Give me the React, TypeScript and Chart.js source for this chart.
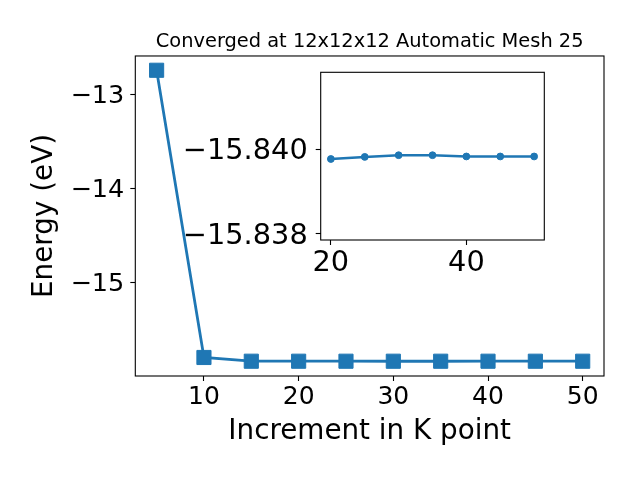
import { useEffect, useRef } from "react";
import { Chart, registerables } from "chart.js";

Chart.register(...registerables);

const kPoints = [5, 10, 15, 20, 25, 30, 35, 40, 45, 50];
const energies = [
  -12.745, -15.8, -15.8398, -15.83977, -15.83982, -15.83986, -15.83986, -15.83983, -15.83983, -15.83983,
];
const mainXTicks = [10, 20, 30, 40, 50];
const mainYTicks = [-13, -14, -15];
const insetStartK = 20;
const insetXTicks = [20, 40];
const insetYTicks = [-15.84, -15.838];
const titleText = "Converged at 12x12x12 Automatic Mesh 25";
const xLabel = "Increment in K point";
const yLabel = "Energy (eV)";

const BLUE = "#1f77b4";
const FONT = "'DejaVu Sans', sans-serif";
const minus = (s: string) => s.replace("-", "\u2212");

const boxPlugin = {
  id: "box",
  beforeDraw(chart: any, _args: any, opts: any) {
    if (opts && opts.fill) {
      const { left, top, right, bottom } = chart.chartArea;
      const ctx = chart.ctx;
      ctx.save();
      ctx.fillStyle = "#ffffff";
      ctx.fillRect(left, top, right - left, bottom - top);
      ctx.restore();
    }
  },
  afterDraw(chart: any) {
    const { left, top, right, bottom } = chart.chartArea;
    const ctx = chart.ctx;
    ctx.save();
    ctx.strokeStyle = "#000000";
    ctx.lineWidth = 1.1;
    ctx.strokeRect(left, top, right - left, bottom - top);
    ctx.restore();
  },
};

const tickGrid = {
  drawOnChartArea: false,
  drawTicks: true,
  tickLength: 5,
  tickColor: "#000",
  tickWidth: 1.1,
};

export default function App() {
  const mainRef = useRef<HTMLCanvasElement>(null);
  const insetRef = useRef<HTMLCanvasElement>(null);

  useEffect(() => {
    Chart.defaults.font.family = FONT;
    Chart.defaults.color = "#000";

    const mainData = kPoints.map((k, i) => ({ x: k, y: energies[i] }));
    const insetData = mainData.filter((p) => p.x >= insetStartK);

    const main = new Chart(mainRef.current!, {
      type: "line",
      data: {
        datasets: [
          {
            data: mainData,
            borderColor: BLUE,
            backgroundColor: BLUE,
            borderWidth: 2.8,
            pointStyle: "rect",
            pointRadius: 10,
            pointBorderWidth: 1,
            pointBackgroundColor: BLUE,
            pointBorderColor: BLUE,
            tension: 0,
          },
        ],
      },
      options: {
        responsive: false,
        animation: false,
        devicePixelRatio: 1,
        layout: { padding: { left: 0, right: 36, top: 0, bottom: 0 } },
        plugins: {
          legend: { display: false },
          tooltip: { enabled: false },
          title: {
            display: true,
            fullSize: false,
            text: titleText,
            color: "#000",
            font: { size: 19.4, weight: "normal", family: FONT, lineHeight: 1.2 },
            padding: { top: 30, bottom: 2.7 },
          },
          box: { fill: false },
        } as any,
        scales: {
          x: {
            type: "linear",
            position: "bottom",
            min: 2.75,
            max: 52.25,
            afterFit: (s: any) => {
              s.height = 104;
            },
            afterBuildTicks: (s: any) => {
              s.ticks = mainXTicks.map((v) => ({ value: v }));
            },
            ticks: {
              font: { size: 25, family: FONT, lineHeight: 1 },
              color: "#000",
              padding: 4,
              maxRotation: 0,
              autoSkip: false,
              callback: (v: any) => minus(String(v)),
            },
            grid: tickGrid,
            border: { display: false },
            title: {
              display: true,
              text: xLabel,
              color: "#000",
              font: { size: 27.8, family: FONT, lineHeight: 1.2 },
              padding: { top: 0, bottom: 31.6 },
            },
          },
          y: {
            type: "linear",
            position: "left",
            min: -15.997,
            max: -12.593,
            afterFit: (s: any) => {
              s.width = 135.3;
            },
            afterBuildTicks: (s: any) => {
              s.ticks = mainYTicks.map((v) => ({ value: v }));
            },
            ticks: {
              font: { size: 25.5, family: FONT, lineHeight: 1 },
              color: "#000",
              padding: 6,
              labelOffset: 2.5,
              autoSkip: false,
              callback: (v: any) => minus(String(v)),
            },
            grid: tickGrid,
            border: { display: false },
            title: {
              display: true,
              text: yLabel,
              color: "#000",
              font: { size: 27.8, family: FONT, lineHeight: 1.2 },
              padding: { top: 28.3, bottom: 0 },
            },
          },
        },
      } as any,
      plugins: [boxPlugin],
    });

    const inset = new Chart(insetRef.current!, {
      type: "line",
      data: {
        datasets: [
          {
            data: insetData,
            borderColor: BLUE,
            backgroundColor: BLUE,
            borderWidth: 2.5,
            pointStyle: "circle",
            pointRadius: 3.4,
            pointBorderWidth: 1,
            pointBackgroundColor: BLUE,
            pointBorderColor: BLUE,
            tension: 0,
          },
        ],
      },
      options: {
        responsive: false,
        animation: false,
        devicePixelRatio: 1,
        layout: { padding: { left: 160.7, right: 95.7, top: 72.3, bottom: 200 } },
        plugins: {
          legend: { display: false },
          tooltip: { enabled: false },
          title: { display: false },
          box: { fill: true },
        } as any,
        scales: {
          x: {
            type: "linear",
            position: "bottom",
            min: 18.5,
            max: 51.5,
            afterFit: (s: any) => {
              s.height = 40;
            },
            afterBuildTicks: (s: any) => {
              s.ticks = insetXTicks.map((v) => ({ value: v }));
            },
            ticks: {
              font: { size: 28.8, family: FONT, lineHeight: 1 },
              color: "#000",
              padding: 4,
              maxRotation: 0,
              autoSkip: false,
              callback: (v: any) => String(v),
            },
            grid: tickGrid,
            border: { display: false },
          },
          y: {
            type: "linear",
            position: "left",
            reverse: true,
            min: -15.841825,
            max: -15.83785,
            afterFit: (s: any) => {
              s.width = 160;
            },
            afterBuildTicks: (s: any) => {
              s.ticks = insetYTicks.map((v) => ({ value: v }));
            },
            ticks: {
              font: { size: 28.8, family: FONT, lineHeight: 1 },
              color: "#000",
              padding: 8,
              labelOffset: 2.5,
              autoSkip: false,
              callback: (v: any) => minus(Number(v).toFixed(3)),
            },
            grid: tickGrid,
            border: { display: false },
          },
        },
      } as any,
      plugins: [boxPlugin],
    });

    return () => {
      main.destroy();
      inset.destroy();
    };
  }, []);

  return (
    <div style={{ position: "absolute", left: 0, top: 0, width: 640, height: 480, background: "#fff" }}>
      <canvas
        ref={mainRef}
        width={640}
        height={480}
        style={{ position: "absolute", left: 0, top: 0, width: 640, height: 480 }}
      />
      <canvas
        ref={insetRef}
        width={640}
        height={480}
        style={{ position: "absolute", left: 0, top: 0, width: 640, height: 480, pointerEvents: "none" }}
      />
    </div>
  );
}
